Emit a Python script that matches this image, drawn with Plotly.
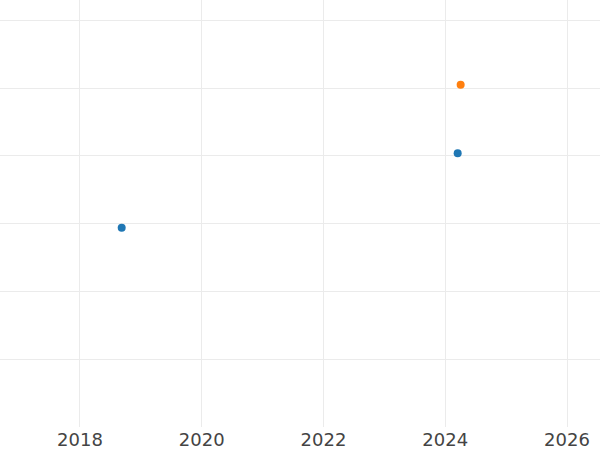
import plotly.graph_objects as go

# Data
series_a_x = [2018.685, 2024.204]
series_a_y = [19.4, 30.4]
series_b_x = [2024.253]
series_b_y = [40.5]

fig = go.Figure()
fig.add_trace(go.Scatter(x=series_a_x, y=series_a_y, mode="markers",
                         marker=dict(color="#1f77b4", size=8), name="A"))
fig.add_trace(go.Scatter(x=series_b_x, y=series_b_y, mode="markers",
                         marker=dict(color="#ff7f0e", size=8), name="B"))

fig.update_layout(
    width=600, height=450,
    template="none",
    paper_bgcolor="white", plot_bgcolor="white",
    margin=dict(l=0, r=0, t=0, b=23),
    showlegend=False,
    font=dict(family="DejaVu Sans", size=18, color="#444444"),
)
fig.update_xaxes(range=[2016.686, 2026.542], dtick=2, tick0=2018, tickformat="d",
                 showgrid=True, gridcolor="#ebebeb", gridwidth=1,
                 zeroline=False, showline=False, ticks="", automargin=False)
fig.update_yaxes(range=[-10, 53], dtick=10, tick0=0, showticklabels=False,
                 showgrid=True, gridcolor="#ebebeb", gridwidth=1,
                 zeroline=False, showline=False, ticks="", automargin=False)

fig.write_html("out.html", config={"displayModeBar": False},
               post_script="document.body.style.margin='0px';")
